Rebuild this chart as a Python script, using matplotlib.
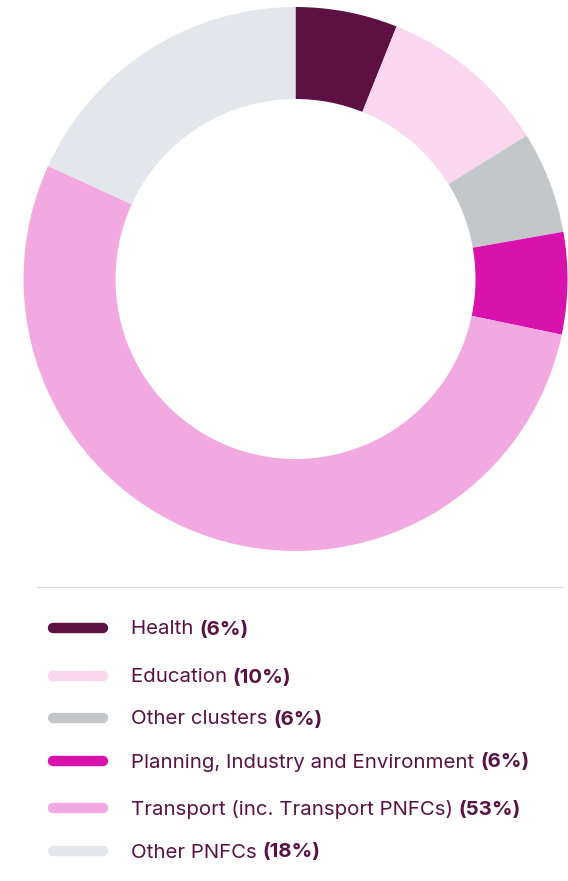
import matplotlib
matplotlib.use("Agg")
import matplotlib.pyplot as plt
from matplotlib.lines import Line2D

# Share of spending by cluster (%)
categories = ["Health", "Education", "Other clusters",
              "Planning, Industry and Environment",
              "Transport (inc. Transport PNFCs)", "Other PNFCs"]
shares = [6, 10, 6, 6, 53, 18]
colors = ["#5C1142", "#FBD6EF", "#C3C7CA", "#D912AE", "#F2A8E0", "#E3E6EA"]
# vertical position (pixels from top) of each legend row
legend_rows = [628, 676, 718, 761, 808, 851]

W, H = 568, 881
TEXT = "#5A1245"
FONT = "Inter"
FS = 14.7

fig = plt.figure(figsize=(W / 100, H / 100), dpi=100)

# donut
cx, cy, r_out, r_in = 295.5, 279, 272, 180
ax = fig.add_axes([(cx - r_out) / W, 1 - (cy + r_out) / H, 2 * r_out / W, 2 * r_out / H])
ax.pie(shares, colors=colors, startangle=90, counterclock=False, radius=1,
       wedgeprops=dict(width=(r_out - r_in) / r_out, linewidth=0))
ax.set_xlim(-1, 1)
ax.set_ylim(-1, 1)
ax.set_aspect("equal")
ax.axis("off")

# separator rule above the legend
fig.add_artist(Line2D([37 / W, 563 / W], [1 - 587 / H] * 2, color="#DDDDDD", lw=0.9))

fig.canvas.draw()
renderer = fig.canvas.get_renderer()

for name, val, col, y in zip(categories, shares, colors, legend_rows):
    yf = 1 - y / H
    fig.add_artist(Line2D([53 / W, 103 / W], [yf, yf], color=col, lw=7.5,
                          solid_capstyle="round"))
    ty = 1 - (y + 1.5) / H
    t = fig.text(131 / W, ty, name + " ", fontsize=FS, family=FONT, color=TEXT,
                 va="center", ha="left")
    bb = t.get_window_extent(renderer)
    fig.text(bb.x1 / W, ty, f"({val}%)", fontsize=FS, family=FONT, color=TEXT,
             fontweight="bold", va="center", ha="left")

fig.savefig("out.png", dpi=100, facecolor="white")
